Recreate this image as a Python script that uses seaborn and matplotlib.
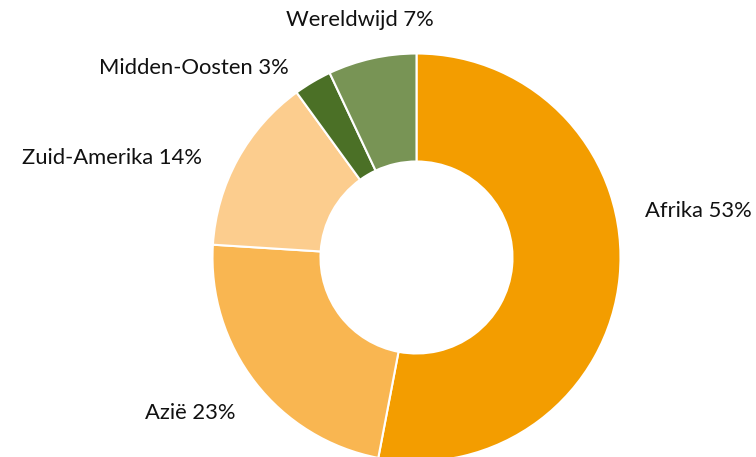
import matplotlib
matplotlib.use("Agg")
import matplotlib.pyplot as plt
import seaborn as sns

# ── data ──────────────────────────────────────────────────────────────────────
regions = ["Afrika", "Azië", "Zuid-Amerika", "Midden-Oosten", "Wereldwijd"]
shares  = [53, 23, 14, 3, 7]
colors  = ["#F39D00", "#F9B651", "#FCCD8E", "#4B7026", "#789455"]

# label anchor positions (pixels, from top-left)
label_pos = [(698, 211), (190, 413), (112, 158), (194, 68), (360, 20)]

sns.set_theme(style="white")
plt.rcParams["font.family"] = ["Lato", "DejaVu Sans"]

W, H = 756, 457
fig = plt.figure(figsize=(W / 100, H / 100), dpi=100)
ax = fig.add_axes([0, 0, 1, 1])

ax.pie(shares, colors=sns.color_palette(colors), center=(416.5, H - 257.5), radius=204,
       startangle=90, counterclock=False,
       wedgeprops=dict(width=108, edgecolor="white", linewidth=1.5))
ax.set_xlim(0, W)
ax.set_ylim(0, H)
ax.set_aspect("equal")
ax.axis("off")

for reg, val, (x, y) in zip(regions, shares, label_pos):
    ax.text(x, H - y, f"{reg} {val}%", ha="center", va="center",
            fontsize=15.8, color="#111111")

fig.savefig("out.png", dpi=100)
